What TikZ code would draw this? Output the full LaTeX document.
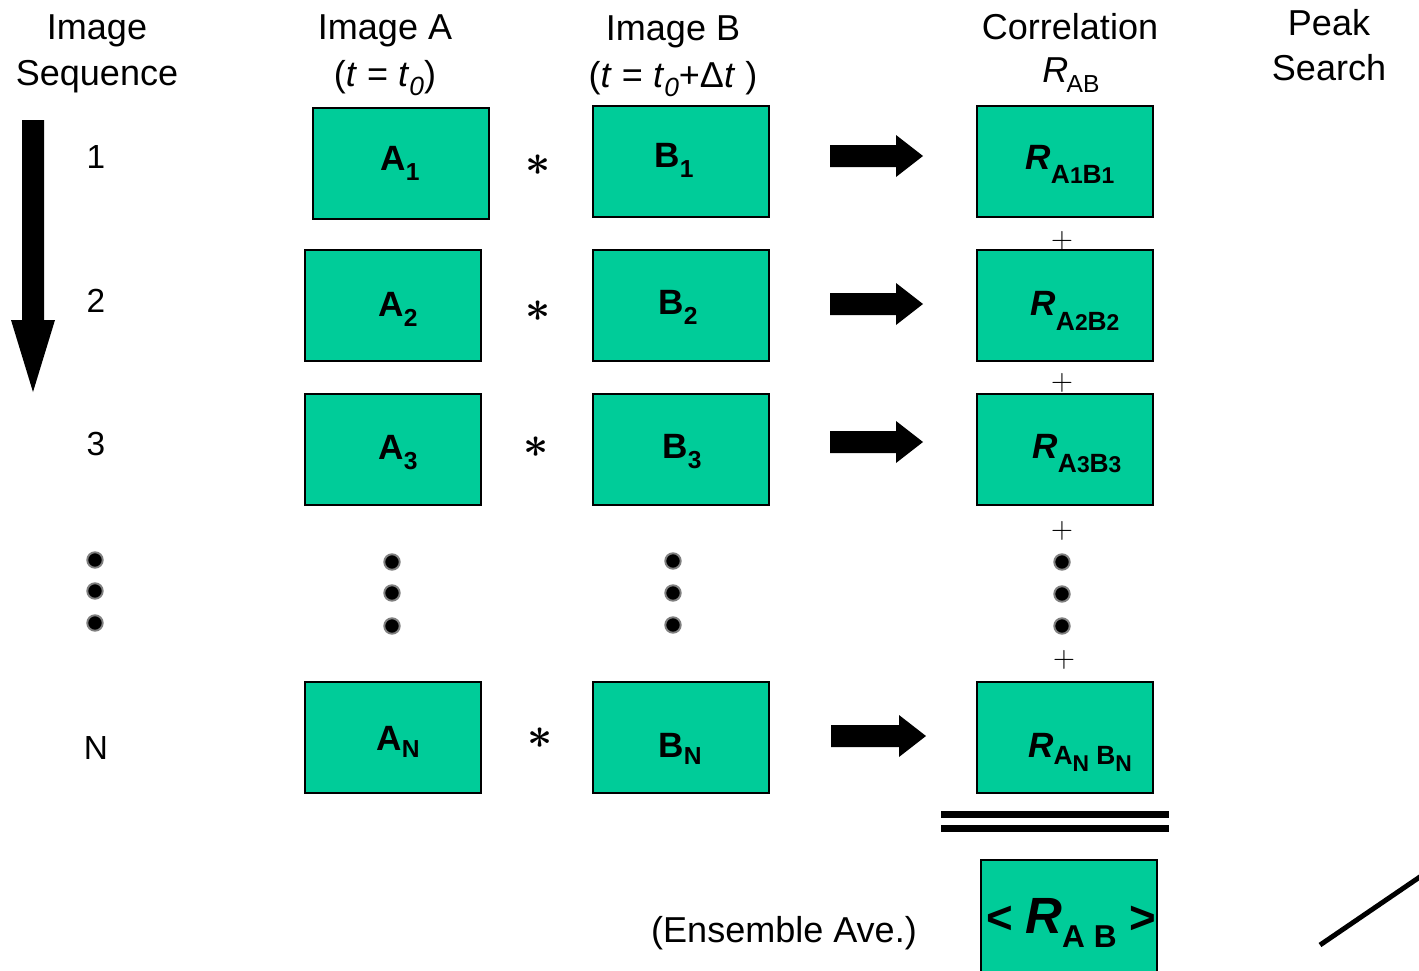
\documentclass[tikz,border=0pt]{standalone}
\usepackage{fontspec}
\setmainfont{Liberation Sans}
\definecolor{boxgreen}{RGB}{0,204,153}
% lowered, resized subscript: #1 shift, #2 size in pt, #3 text
\newcommand\dsub[3]{\raisebox{#1}{\fontsize{#2}{#2}\selectfont #3}}
% small digit inside a correlation subscript
\newcommand\sdig[1]{{\fontsize{13}{13}\selectfont #1}}
\begin{document}
\begin{tikzpicture}[x=0.02cm,y=-0.02cm,
  imgbox/.style={draw=black, line width=1.6pt, fill=boxgreen,
    minimum width=3.52cm, minimum height=2.22cm, inner sep=0pt, outer sep=0pt},
  hdr/.style={font=\fontsize{20.5}{24}\selectfont, anchor=base, inner sep=0pt},
  seqnum/.style={font=\fontsize{19}{22}\selectfont, anchor=base, inner sep=0pt},
  boxlbl/.style={font=\fontsize{20}{22}\selectfont\bfseries, anchor=base, inner sep=0pt},
  corrlbl/.style={font=\fontsize{20}{22}\selectfont\bfseries, anchor=base, inner sep=0pt},
  convsym/.style={font=\fontsize{40}{40}\selectfont\boldmath, inner sep=0pt},
  plussym/.style={font=\fontsize{17}{17}\selectfont, inner sep=0pt},
  seqdot/.style={circle, fill=black, draw=gray, line width=1.1pt,
    minimum size=0.31cm, inner sep=0pt},
  blockarrow/.style={fill=black, draw=none},
  eqbar/.style={line width=4pt},
]
\useasboundingbox (0,0) rectangle (1419,970);
\clip (0,0) rectangle (1419,970);

% column headings
\node[hdr] (seqA) at (97,39) {Image};
\node[hdr] (seqB) at (97,85) {Sequence};
\node[hdr] (imgA1) at (385,39) {Image A};
\node[hdr] (imgA2) at (385,86) {(\textit{t} = \textit{t}\dsub{-5.5pt}{15}{\textit{0}})};
\node[hdr] (imgB1) at (673,40) {Image B};
\node[hdr] (imgB2) at (673,87) {(\textit{t} = \textit{t}\dsub{-5.5pt}{15}{\textit{0}}+Δ\textit{t} )};
\node[hdr] (corr1) at (1070,39) {Correlation};
\node[hdr] (corr2) at (1071,82) {\textit{R}\hspace{-1pt}\dsub{-6pt}{14}{AB}};
\node[hdr] (peak1) at (1329,35) {Peak};
\node[hdr] (peak2) at (1329,80) {Search};

% time direction
\fill[blockarrow] (22,120) -- (44,120) -- (44,320) -- (55,320) -- (33,392)
  -- (11,320) -- (22,320) -- cycle;

% sequence numbers
\node[seqnum] (n1) at (96,168) {1};
\node[seqnum] (n2) at (96,312) {2};
\node[seqnum] (n3) at (96,455) {3};
\node[seqnum] (nN) at (96,759) {N};

% image boxes
\node[imgbox] (A1) at (401,163.5) {};
\node[imgbox] (B1) at (681,161.5) {};
\node[imgbox] (R1) at (1065,161.5) {};
\node[imgbox] (A2) at (393,305.5) {};
\node[imgbox] (B2) at (681,305.5) {};
\node[imgbox] (R2) at (1065,305.5) {};
\node[imgbox] (A3) at (393,449.5) {};
\node[imgbox] (B3) at (681,449.5) {};
\node[imgbox] (R3) at (1065,449.5) {};
\node[imgbox] (AN) at (393,737.5) {};
\node[imgbox] (BN) at (681,737.5) {};
\node[imgbox] (RN) at (1065,737.5) {};
\node[imgbox, minimum height=2.34cm] (Ravg) at (1069,918.5) {};

% box labels
\node[boxlbl] (A1t) at (400,170) {A\dsub{-6pt}{14}{1}};
\node[boxlbl] (A2t) at (398,316) {A\dsub{-6pt}{14}{2}};
\node[boxlbl] (A3t) at (398,459) {A\dsub{-6pt}{14}{3}};
\node[boxlbl] (ANt) at (398,750) {A\dsub{-4pt}{14}{N}};
\node[boxlbl] (B1t) at (674,167) {B\dsub{-6pt}{14}{1}};
\node[boxlbl] (B2t) at (678,314) {B\dsub{-6pt}{14}{2}};
\node[boxlbl] (B3t) at (682,458) {B\dsub{-6pt}{14}{3}};
\node[boxlbl] (BNt) at (680,757) {B\dsub{-4pt}{14}{N}};
\node[corrlbl] (R1t) at (1070,169) {\textit{R}\dsub{-8pt}{15}{A\sdig{1}B\sdig{1}}};
\node[corrlbl] (R2t) at (1075,315) {\textit{R}\dsub{-9pt}{15}{A\sdig{2}B\sdig{2}}};
\node[corrlbl] (R3t) at (1077,458) {\textit{R}\dsub{-8.5pt}{15}{A\sdig{3}B\sdig{3}}};
\node[corrlbl] (RNt) at (1080,757) {\textit{R}\dsub{-4.5pt}{15}{A\dsub{-4pt}{13}{N} B\dsub{-4pt}{13}{N}}};
\node[anchor=base, inner sep=0pt, font=\fontsize{26}{28}\selectfont\bfseries] (Ravgt) at (1071,933)
  {< {\fontsize{29}{30}\selectfont\textit{R}}\dsub{-8.5pt}{18}{A B} >};

% convolution signs
\node[convsym] (c1) at (538,165) {$\ast$};
\node[convsym] (c2) at (538,311) {$\ast$};
\node[convsym] (c3) at (536,447) {$\ast$};
\node[convsym] (cN) at (540,738) {$\ast$};

% result arrows
\foreach \c/\xa/\xt in {156/830/923, 304/830/923, 442/830/923, 736/831/926}{
  \fill[blockarrow] (\xa,\c-11) -- (\xt-27,\c-11) -- (\xt-27,\c-21) -- (\xt,\c)
    -- (\xt-27,\c+21) -- (\xt-27,\c+11) -- (\xa,\c+11) -- cycle;
}

% summation signs
\node[plussym] (p1) at (1062,241) {$+$};
\node[plussym] (p2) at (1062,383) {$+$};
\node[plussym] (p3) at (1062,531) {$+$};
\node[plussym] (p4) at (1064,660) {$+$};

% ellipsis dots
\node[seqdot] (d11) at (95,560) {};
\node[seqdot] (d12) at (95,591) {};
\node[seqdot] (d13) at (95,623) {};
\node[seqdot] (d21) at (392,562) {};
\node[seqdot] (d22) at (392,593) {};
\node[seqdot] (d23) at (392,626) {};
\node[seqdot] (d31) at (673,561) {};
\node[seqdot] (d32) at (673,593) {};
\node[seqdot] (d33) at (673,625) {};
\node[seqdot] (d41) at (1062,562) {};
\node[seqdot] (d42) at (1062,594) {};
\node[seqdot] (d43) at (1062,626) {};

% equals sign
\draw[eqbar] (941,814.5) -- (1169,814.5);
\draw[eqbar] (941,828.5) -- (1169,828.5);

\node[hdr] (ens) at (784,942) {(Ensemble Ave.)};

% start of the peak-search sketch
\draw[line width=2.8pt] (1320,945) -- (1430,870);
\end{tikzpicture}
\end{document}
